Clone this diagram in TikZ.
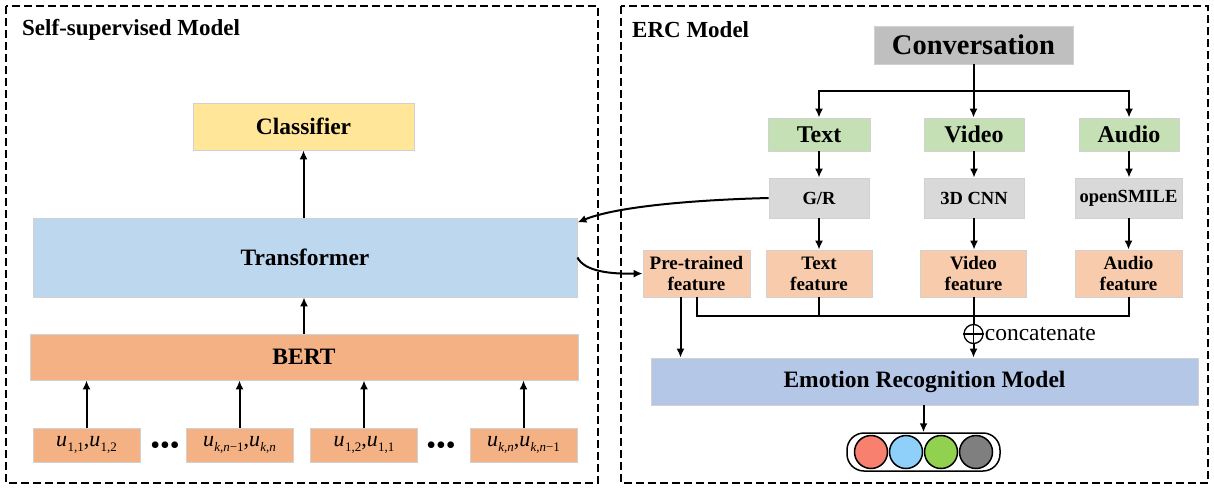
\documentclass[tikz,border=0pt]{standalone}
\usepackage{fontspec}
\setmainfont{Liberation Serif}
\usetikzlibrary{arrows.meta}
\definecolor{cCls}{HTML}{FFE699}
\definecolor{cTrf}{HTML}{BDD7EE}
\definecolor{cBert}{HTML}{F4B183}
\definecolor{cConv}{HTML}{BFBFBF}
\definecolor{cGreen}{HTML}{C5E0B4}
\definecolor{cGray}{HTML}{D9D9D9}
\definecolor{cFeat}{HTML}{F8CBAD}
\definecolor{cErm}{HTML}{B4C7E7}
\definecolor{cRed}{HTML}{F8806F}
\definecolor{cBlue}{HTML}{8ED0FA}
\definecolor{cLGreen}{HTML}{92D050}
\definecolor{cDGray}{HTML}{7F7F7F}
\newcommand{\fs}[1]{\fontsize{#1}{#1}\selectfont}
\newcommand{\us}[1]{\textit{u}\kern0.3pt\raisebox{-0.5ex}{\fs{13}#1}}
\begin{document}
\begin{tikzpicture}[x=1pt,y=-1pt,
  box/.style={draw=black!18, line width=0.8pt, inner sep=0pt, align=center, font=\bfseries},
  arr/.style={line width=2pt, -{Latex[length=9pt,width=8pt]}},
  ln/.style={line width=2pt},
  frame/.style={draw, line width=1.8pt, dash pattern=on 8pt off 4pt},
  ubox/.style={draw=black!18, line width=0.8pt, fill=cBert, minimum width=107, minimum height=34, inner sep=0pt, font=\fs{22}},
  emo/.style={circle, draw, line width=1.5pt, minimum width=30, minimum height=33, inner sep=0pt},
  feat/.style={box, fill=cFeat, minimum height=47, font=\bfseries\fontsize{19}{21}\selectfont}
]
\useasboundingbox (0,0) rectangle (1214,488);
% frames
\draw[frame] (6,6) rectangle (598,483);
\draw[frame] (621,6) rectangle (1208,483);
\node[anchor=west, font=\bfseries\fs{23}, inner sep=0pt] (lt) at (22,30) {Self-supervised Model};
\node[anchor=west, font=\bfseries\fs{23}, inner sep=0pt] (rt) at (632,30) {ERC Model};

% left side
\node[box, fill=cCls, minimum width=221, minimum height=47, font=\bfseries\fs{23.5}] (cls) at (303.5,126.5) {Classifier};
\node[box, fill=cTrf, minimum width=544, minimum height=79, font=\bfseries\fs{23.5}] (trf) at (305,257.5) {Transformer};
\node[box, fill=cBert, minimum width=548, minimum height=46, font=\bfseries\fs{23.5}] (bert) at (304,357) {BERT};
\node[ubox] (u1) at (86.5,445) {\us{1,1},\us{1,2}};
\node[ubox] (u2) at (239.5,445) {\us{\textit{k},\textit{n}−1},\us{\textit{k},\textit{n}}};
\node[ubox] (u3) at (364,445) {\us{1,2},\us{1,1}};
\node[ubox] (u4) at (523.5,445) {\us{\textit{k},\textit{n}},\us{\textit{k},\textit{n}−1}};
\node[font=\fs{28}, inner sep=0pt] (d1) at (165,448) {•••};
\node[font=\fs{28}, inner sep=0pt] (d2) at (441,448) {•••};
\foreach \u in {u1,u2,u3,u4} \draw[arr] (\u.north) -- (bert.south -| \u.north);
\draw[arr] (bert.north) -- (trf.south -| bert.north);
\draw[arr] (trf.north -| cls.south) -- (cls.south);

% right side
\node[box, fill=cConv, minimum width=199, minimum height=38, font=\bfseries\fs{28.5}] (conv) at (973.5,45) {Conversation};
\node[box, fill=cGreen, minimum width=102, minimum height=33, font=\bfseries\fs{24}] (tx) at (819,134.5) {Text};
\node[box, fill=cGreen, minimum width=100, minimum height=33, font=\bfseries\fs{24}] (vd) at (974,134.5) {Video};
\node[box, fill=cGreen, minimum width=100, minimum height=33, font=\bfseries\fs{24}] (au) at (1129,134.5) {Audio};
\node[box, fill=cGray, minimum width=100, minimum height=40, font=\bfseries\fs{18.5}] (gr) at (819,198) {G/R};
\node[box, fill=cGray, minimum width=100, minimum height=40, font=\bfseries\fs{18.5}] (cnn) at (974,198) {3D CNN};
\node[box, fill=cGray, minimum width=107, minimum height=40, font=\bfseries\fs{18.5}] (os) at (1128.5,198) {openSMILE};
\node[feat, minimum width=107] (pre) at (696.5,273.5) {Pre-trained\\feature};
\node[feat, minimum width=106] (tf) at (819,273.5) {Text\\feature};
\node[feat, minimum width=106] (vf) at (973.5,273.5) {Video\\feature};
\node[feat, minimum width=107] (af) at (1128.5,273.5) {Audio\\feature};
\node[box, fill=cErm, minimum width=547, minimum height=47, font=\bfseries\fs{23.5}] (erm) at (924.5,381.5) {Emotion Recognition Model};
\node[draw, line width=1.5pt, rounded corners=17pt, minimum width=153, minimum height=38, inner sep=0pt] (out) at (923.5,452) {};
\node[emo, fill=cRed] (e1) at (871,452) {};
\node[emo, fill=cBlue] (e2) at (906,452) {};
\node[emo, fill=cLGreen] (e3) at (941,452) {};
\node[emo, fill=cDGray] (e4) at (976,452) {};

\coordinate (split) at (973.5,91);
\draw[ln] (conv.south) -- (split);
\draw[arr] (split) -| (tx.north);
\draw[arr] (split) -| (au.north);
\draw[arr] (split) -- (vd.north -| split);
\draw[arr] (tx) -- (gr);
\draw[arr] (vd) -- (cnn);
\draw[arr] (au.south) -- (os.north -| au.south);
\draw[arr] (gr) -- (tf);
\draw[arr] (cnn.south) -- (vf.north -| cnn.south);
\draw[arr] (os) -- (af);

% concatenation bus
\coordinate (bus) at (0,316);
\node[circle, draw, line width=1.3pt, minimum size=19, inner sep=0pt] (op) at (973.5,334) {};
\draw[line width=1.3pt] (op.west) -- (op.east) (op.north) -- (op.south);
\node[anchor=west, inner sep=0pt, font=\fs{23.5}] (cc) at ([xshift=1pt]op.east) {concatenate};
\draw[ln] (pre.south) |- (bus -| af.south) -- (af.south);
\draw[ln] (tf.south) -- (bus -| tf.south);
\draw[ln] (vf.south) -- (op.north);
\draw[arr] (op.south) -- (erm.north -| op.south);
\coordinate (preL) at ([xshift=-16pt]pre.south);
\draw[arr] (preL) -- (erm.north -| preL);
\draw[arr] (erm.south -| out.north) -- (out.north);

% curves
\draw[arr] (gr.west) .. controls (690,200) and (615,207) .. ([yshift=35pt]trf.east);
\draw[arr] (trf.east) .. controls (585,272) and (612,274) .. (pre.west);
\end{tikzpicture}
\end{document}
